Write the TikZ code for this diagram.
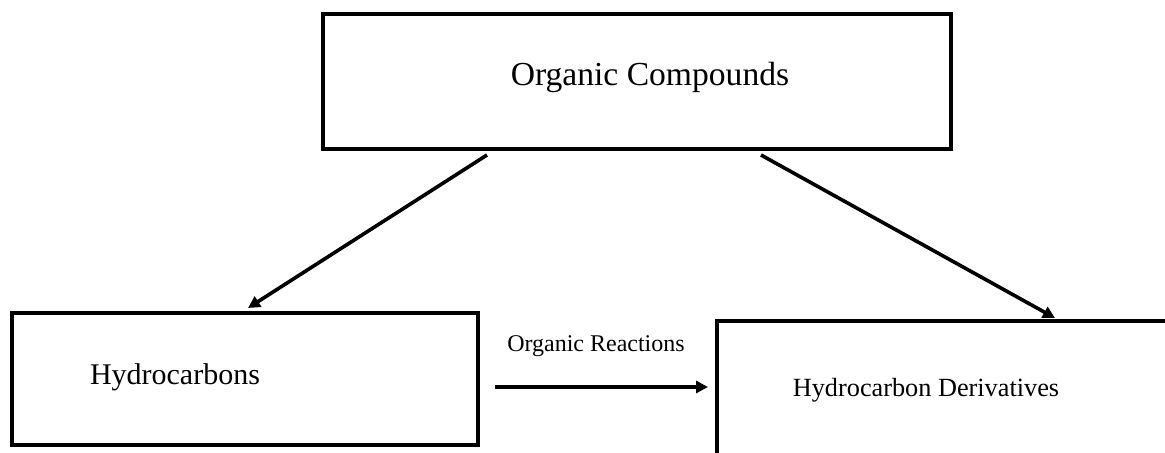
\documentclass[tikz,border=0pt]{standalone}
\usepackage{fontspec}
\setmainfont{Liberation Serif}
\usetikzlibrary{arrows.meta}
\tikzset{
  boxnode/.style={draw=black, line width=3pt, inner sep=0pt, outer sep=0pt},
  lbl/.style={inner sep=0pt, anchor=base, text=black},
  conn/.style={draw=black, line width=2.7pt, -{Triangle[length=9pt,width=9pt]}}
}
\begin{document}
\begin{tikzpicture}[x=0.75pt,y=-0.75pt]
\useasboundingbox (0,0) rectangle (1165,453);
\clip (0,0) rectangle (1165,453);
\fill[white] (0,0) rectangle (1165,453);
% boxes
\node[boxnode, minimum width=471pt, minimum height=101.25pt] (top) at (637,81.5) {};
\node[boxnode, minimum width=349.5pt, minimum height=99pt] (left) at (245,379) {};
\node[boxnode, minimum width=399.75pt, minimum height=149.25pt] (right) at (983.5,420.5) {};
% labels
\node[lbl, font=\fontsize{25.2pt}{30pt}\selectfont] (oc) at (650,86) {Organic Compounds};
\node[lbl, font=\fontsize{22.5pt}{27pt}\selectfont] (hc) at (175,384) {Hydrocarbons};
\node[lbl, font=\fontsize{19.7pt}{24pt}\selectfont] (hd) at (926,396) {Hydrocarbon Derivatives};
\node[lbl, font=\fontsize{18pt}{22pt}\selectfont] (orx) at (596,351) {Organic Reactions};
% connector end points
\coordinate (l1) at (487,155);
\coordinate (l2) at (248,308);
\coordinate (r1) at (761,155);
\coordinate (r2) at (1055,318);
\coordinate (h1) at (495,387);
\coordinate (h2) at (708,387);
\draw[conn] (l1) -- (l2);
\draw[conn] (r1) -- (r2);
\draw[conn] (h1) -- (h2);
\end{tikzpicture}
\end{document}
